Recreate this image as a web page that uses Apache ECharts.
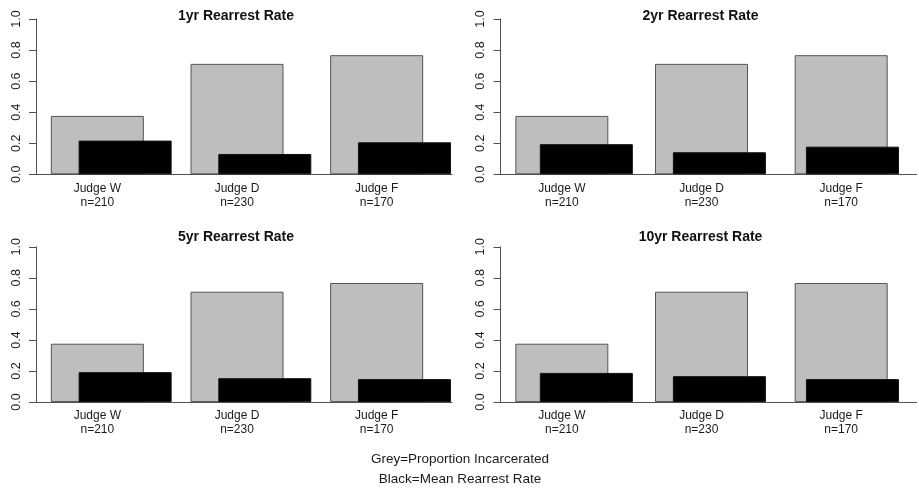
<!DOCTYPE html>
<html>
<head>
<meta charset="utf-8">
<title>Rearrest rates by judge</title>
<script src="https://cdn.jsdelivr.net/npm/echarts@6/dist/echarts.min.js"></script>
<style>
  html, body { margin: 0; padding: 0; background: #ffffff; }
  #chart { width: 919px; height: 489px; }
</style>
</head>
<body>
<div id="chart"></div>
<script>
// Judges and their caseloads
const judges = ['Judge W', 'Judge D', 'Judge F'];
const caseCounts = [210, 230, 170];

// Panel titles, one per follow-up window
const panelTitles = ['1yr Rearrest Rate', '2yr Rearrest Rate', '5yr Rearrest Rate', '10yr Rearrest Rate'];

// Grey bars: share of defendants incarcerated (same in every panel)
const proportionIncarcerated = [0.376, 0.711, 0.767];

// Black bars: mean rearrest rate per window
const rearrest1yr = [0.217, 0.131, 0.206];
const rearrest2yr = [0.194, 0.142, 0.178];
const rearrest5yr = [0.193, 0.154, 0.148];
const rearrest10yr = [0.188, 0.167, 0.148];
const rearrestByPanel = [rearrest1yr, rearrest2yr, rearrest5yr, rearrest10yr];

// Y axis range and step
const yMin = 0, yMax = 1, yStep = 0.2;

// Legend lines under the plots
const legendLines = ['Grey=Proportion Incarcerated', 'Black=Mean Rearrest Rate'];

const FONT = '"Liberation Sans", Arial, sans-serif';
const AXIS_GREY = '#505050';

// Panel origins (top-left plot corner offsets)
const panelOrigins = [
  { x: 0, y: 0, titleTop: 9 },
  { x: 464.5, y: 0, titleTop: 9 },
  { x: 0, y: 227.8, titleTop: 230 },
  { x: 464.5, y: 227.8, titleTop: 230 }
];

const PLOT_TOP = 19;
const PLOT_H = 155.3;
const BAR_W = 93;
const BAND_LEFT = 27.5;
const BAND_W = 419;
const BLACK_SHIFT = 27.8;

const categoryLabels = judges.map((j, i) => j + '\nn=' + caseCounts[i]);

const grid = [], xAxis = [], yAxis = [], series = [], title = [];

panelOrigins.forEach((p, k) => {
  const top = p.y + PLOT_TOP;

  // frame grid: y axis + baseline
  const gFrame = grid.length;
  grid.push({ left: p.x + 36, top: top, width: 416, height: PLOT_H, containLabel: false });
  xAxis.push({
    gridIndex: gFrame, type: 'value', min: 0, max: 1,
    axisLine: { show: true, lineStyle: { color: AXIS_GREY, width: 1 } },
    axisTick: { show: false }, axisLabel: { show: false }, splitLine: { show: false }
  });
  yAxis.push({
    gridIndex: gFrame, type: 'value', min: yMin, max: yMax, interval: yStep,
    axisLine: { show: true, lineStyle: { color: AXIS_GREY, width: 1 } },
    axisTick: { show: true, length: 7, lineStyle: { color: AXIS_GREY, width: 1 } },
    splitLine: { show: false },
    axisLabel: {
      rotate: 90, margin: 13, color: '#1a1a1a', fontSize: 12.5, fontFamily: FONT,
      formatter: v => v.toFixed(1)
    }
  });

  // grey bars grid
  const gGrey = grid.length;
  grid.push({ left: p.x + BAND_LEFT, top: top, width: BAND_W, height: PLOT_H });
  xAxis.push({
    gridIndex: gGrey, type: 'category', data: categoryLabels,
    axisLine: { show: false }, axisTick: { show: false },
    axisLabel: { margin: 7, color: '#1a1a1a', fontSize: 12, lineHeight: 14, fontFamily: FONT, interval: 0 }
  });
  yAxis.push({ gridIndex: gGrey, type: 'value', min: yMin, max: yMax, show: false });
  series.push({
    type: 'bar', xAxisIndex: gGrey, yAxisIndex: gGrey, barWidth: BAR_W, z: 2,
    data: proportionIncarcerated,
    itemStyle: { color: '#bebebe', borderColor: '#555555', borderWidth: 1 },
    silent: true
  });

  // black bars grid, shifted right
  const gBlack = grid.length;
  grid.push({ left: p.x + BAND_LEFT + BLACK_SHIFT, top: top, width: BAND_W, height: PLOT_H });
  xAxis.push({ gridIndex: gBlack, type: 'category', data: judges, show: false });
  yAxis.push({ gridIndex: gBlack, type: 'value', min: yMin, max: yMax, show: false });
  series.push({
    type: 'bar', xAxisIndex: gBlack, yAxisIndex: gBlack, barWidth: BAR_W, z: 3,
    data: rearrestByPanel[k],
    itemStyle: { color: '#000000', borderColor: '#111111', borderWidth: 1 },
    silent: true
  });

  title.push({
    text: panelTitles[k],
    left: p.x + 236, top: p.titleTop, textAlign: 'center', padding: 0,
    textStyle: { fontSize: 14, fontWeight: 'bold', color: '#111', fontFamily: FONT }
  });
});

title.push({
  text: legendLines.join('\n'),
  left: 460, top: 449, textAlign: 'center', padding: 0,
  textStyle: { fontSize: 13.5, fontWeight: 'normal', color: '#1a1a1a', lineHeight: 20, fontFamily: FONT }
});

const chart = echarts.init(document.getElementById('chart'), null, { renderer: 'canvas' });
chart.setOption({
  animation: false,
  backgroundColor: '#ffffff',
  title, grid, xAxis, yAxis, series
});
</script>
</body>
</html>
